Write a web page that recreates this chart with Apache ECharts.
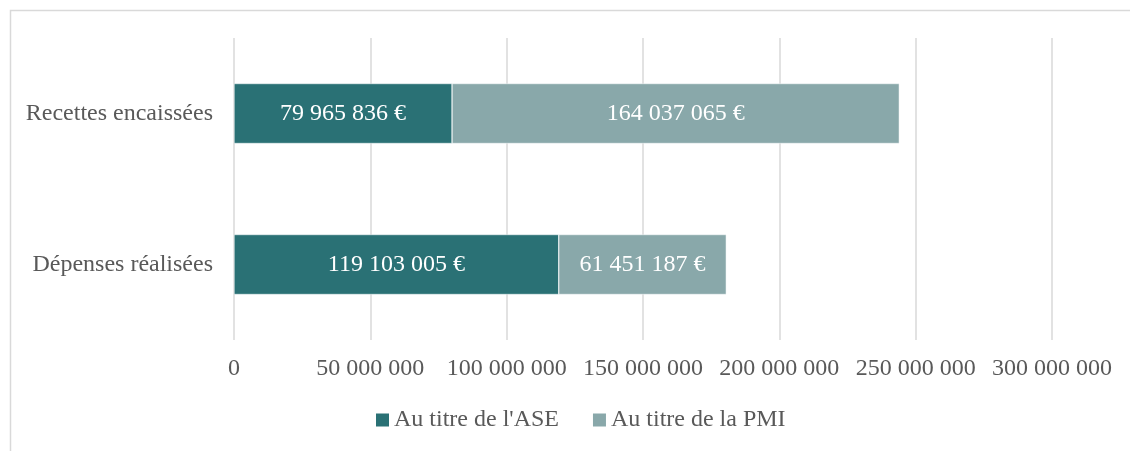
<!DOCTYPE html>
<html lang="fr">
<head>
    <meta charset="UTF-8">
    <title>Recettes et dépenses</title>
    <script src="https://cdn.jsdelivr.net/npm/echarts@6/dist/echarts.min.js"></script>
    <style>
        * { margin: 0; padding: 0; box-sizing: border-box; }
        body { background: #ffffff; }
        #chart { width: 1130px; height: 451px; }
    </style>
</head>
<body>
    <div id="chart"></div>
    <script>
        // données
        const categories = ['Dépenses réalisées', 'Recettes encaissées'];
        const seriesNames = ["Au titre de l'ASE", 'Au titre de la PMI'];
        const aseValues = [119103005, 79965836];
        const pmiValues = [61451187, 164037065];
        const tickValues = [0, 50000000, 100000000, 150000000, 200000000, 250000000, 300000000];

        const FONT = '"Liberation Serif", "Times New Roman", serif';
        const FS = 24;

        // 119103005 -> "119 103 005"
        function fmt(v) {
            return String(Math.round(v)).replace(/\B(?=(\d{3})+(?!\d))/g, ' ');
        }

        const chart = echarts.init(document.getElementById('chart'));
        chart.setOption({
            animation: false,
            textStyle: { fontFamily: FONT },
            graphic: [{
                type: 'rect',
                left: 8, top: 8,
                shape: { width: 1200, height: 600 },
                style: { fill: 'none', stroke: '#d9d9d9', lineWidth: 1.5 },
                silent: true
            }],
            legend: {
                top: 403,
                left: 371,
                itemWidth: 13,
                itemHeight: 13,
                itemGap: 34,
                icon: 'rect',
                itemStyle: { borderWidth: 0 },
                textStyle: { fontFamily: FONT, fontSize: FS, color: '#595959' },
                data: seriesNames
            },
            grid: { left: 234, right: 78, top: 38, bottom: 111, containLabel: false },
            xAxis: {
                type: 'value',
                min: tickValues[0],
                max: tickValues[tickValues.length - 1],
                interval: tickValues[1] - tickValues[0],
                axisLine: { show: false },
                axisTick: { show: false },
                splitLine: { lineStyle: { color: '#d9d9d9', width: 1.5 } },
                axisLabel: {
                    fontFamily: FONT, fontSize: FS, color: '#595959', margin: 17,
                    formatter: v => fmt(v)
                }
            },
            yAxis: {
                type: 'category',
                data: categories,
                axisLine: { show: false },
                axisTick: { show: false },
                axisLabel: { fontFamily: FONT, fontSize: FS, color: '#595959', margin: 21 }
            },
            series: [{
                name: seriesNames[0],
                type: 'bar',
                stack: 'total',
                barWidth: 60,
                data: aseValues,
                itemStyle: { color: '#2a7175', borderColor: '#ffffff', borderWidth: 0.5 },
                label: {
                    show: true, position: 'inside', color: '#ffffff',
                    fontFamily: FONT, fontSize: FS,
                    formatter: p => fmt(p.value) + ' €'
                }
            }, {
                name: seriesNames[1],
                type: 'bar',
                stack: 'total',
                barWidth: 60,
                data: pmiValues,
                itemStyle: { color: '#89a8aa', borderColor: '#ffffff', borderWidth: 0.5 },
                label: {
                    show: true, position: 'inside', color: '#ffffff',
                    fontFamily: FONT, fontSize: FS,
                    formatter: p => fmt(p.value) + ' €'
                }
            }]
        });
    </script>
</body>
</html>
